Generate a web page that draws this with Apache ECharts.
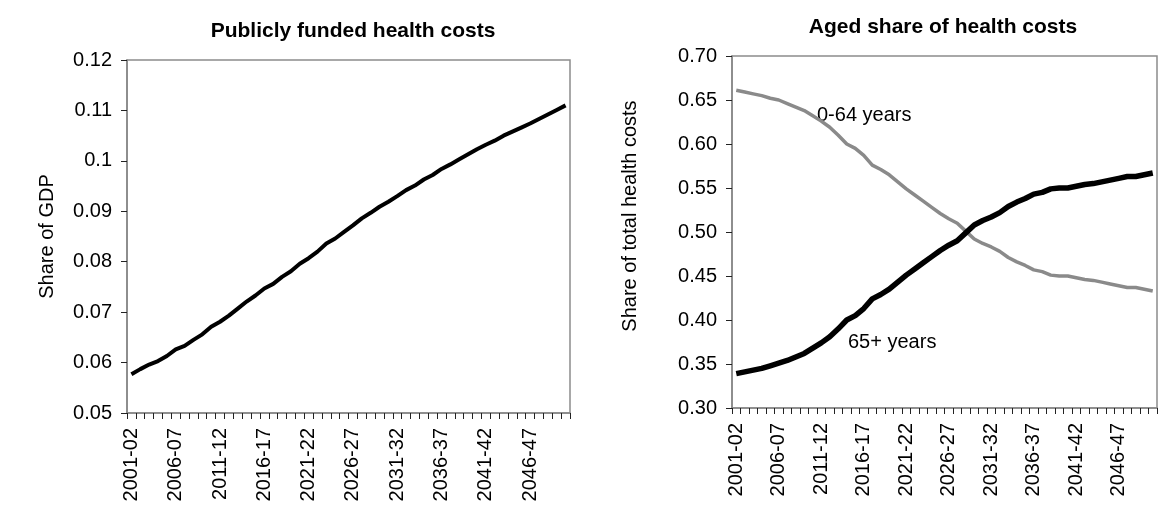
<!DOCTYPE html>
<html>
<head>
<meta charset="utf-8">
<script src="https://cdn.jsdelivr.net/npm/echarts@6/dist/echarts.min.js"></script>
<style>
  html, body { margin: 0; padding: 0; background: #fff; }
  #chart { width: 1163px; height: 507px; }
</style>
</head>
<body>
<div id="chart"></div>
<script>
const years = [
  '2001-02', '2002-03', '2003-04', '2004-05', '2005-06', '2006-07', '2007-08', '2008-09', '2009-10', '2010-11',
  '2011-12', '2012-13', '2013-14', '2014-15', '2015-16', '2016-17', '2017-18', '2018-19', '2019-20', '2020-21',
  '2021-22', '2022-23', '2023-24', '2024-25', '2025-26', '2026-27', '2027-28', '2028-29', '2029-30', '2030-31',
  '2031-32', '2032-33', '2033-34', '2034-35', '2035-36', '2036-37', '2037-38', '2038-39', '2039-40', '2040-41',
  '2041-42', '2042-43', '2043-44', '2044-45', '2045-46', '2046-47', '2047-48', '2048-49', '2049-50', '2050-51'
]

// publicly funded health costs, share of GDP
const healthGdp = [
  0.0577, 0.0587, 0.0596, 0.0603, 0.0613, 0.0626, 0.0633, 0.0645, 0.0656, 0.0671,
  0.0681, 0.0693, 0.0707, 0.0721, 0.0733, 0.0747, 0.0756, 0.0770, 0.0781, 0.0796,
  0.0807, 0.0820, 0.0836, 0.0846, 0.0859, 0.0872, 0.0886, 0.0897, 0.0909, 0.0919,
  0.0930, 0.0942, 0.0951, 0.0963, 0.0972, 0.0984, 0.0993, 0.1003, 0.1013, 0.1023,
  0.1032, 0.1040, 0.1050, 0.1058, 0.1066, 0.1074, 0.1083, 0.1092, 0.1101, 0.1110
]

// share of total health costs by age group
const share0to64 = [
  0.661, 0.659, 0.657, 0.655, 0.652, 0.650, 0.646, 0.642, 0.638, 0.632,
  0.626, 0.619, 0.610, 0.600, 0.595, 0.587, 0.576, 0.571, 0.565, 0.557,
  0.549, 0.542, 0.535, 0.528, 0.521, 0.515, 0.510, 0.501, 0.492, 0.487,
  0.483, 0.478, 0.471, 0.466, 0.462, 0.457, 0.455, 0.451, 0.450, 0.450,
  0.448, 0.446, 0.445, 0.443, 0.441, 0.439, 0.437, 0.437, 0.435, 0.433
]
const share65plus = [
  0.339, 0.341, 0.343, 0.345, 0.348, 0.351, 0.354, 0.358, 0.362, 0.368,
  0.374, 0.381, 0.390, 0.400, 0.405, 0.413, 0.424, 0.429, 0.435, 0.443,
  0.451, 0.458, 0.465, 0.472, 0.479, 0.485, 0.490, 0.499, 0.508, 0.513,
  0.517, 0.522, 0.529, 0.534, 0.538, 0.543, 0.545, 0.549, 0.550, 0.550,
  0.552, 0.554, 0.555, 0.557, 0.559, 0.561, 0.563, 0.563, 0.565, 0.567
]

const font = 'Arial, "Liberation Sans", sans-serif'
const axisGrey = '#868686'

function catAxis(gridIndex) {
  return {
    type: 'category',
    gridIndex: gridIndex,
    data: years,
    boundaryGap: true,
    axisLine: { lineStyle: { color: axisGrey, width: 1.5 } },
    axisTick: { show: true, interval: 0, length: 6, lineStyle: { color: '#222' } },
    axisLabel: {
      interval: 4,
      rotate: 90,
      margin: 15,
      color: '#000',
      fontSize: 20,
      fontFamily: font
    },
    splitLine: { show: false }
  }
}

function valAxis(gridIndex, min, max, step, name, gap, fmt, pad) {
  return {
    type: 'value',
    gridIndex: gridIndex,
    min: min,
    max: max,
    interval: step,
    name: name,
    nameLocation: 'middle',
    nameGap: gap,
    nameTextStyle: { color: '#000', fontSize: 20, fontFamily: font, padding: pad },
    axisLine: { show: true, lineStyle: { color: axisGrey, width: 1.5 } },
    axisTick: { show: true, length: 6, lineStyle: { color: '#222' } },
    axisLabel: { color: '#000', fontSize: 20, fontFamily: font, margin: 15, formatter: fmt },
    splitLine: { show: false }
  }
}

const chart = echarts.init(document.getElementById('chart'))
chart.setOption({
  backgroundColor: '#fff',
  animation: false,
  title: [
    {
      text: 'Publicly funded health costs',
      left: 348,
      top: 16,
      textAlign: 'center',
      textStyle: { fontSize: 21, fontWeight: 'bold', color: '#000', fontFamily: font }
    },
    {
      text: 'Aged share of health costs',
      left: 938,
      top: 12,
      textAlign: 'center',
      textStyle: { fontSize: 21, fontWeight: 'bold', color: '#000', fontFamily: font }
    }
  ],
  grid: [
    { left: 127, top: 60, width: 443, height: 353, show: true, borderColor: '#8c8c8c', borderWidth: 1.5, containLabel: false },
    { left: 732, top: 56, width: 425, height: 352, show: true, borderColor: '#8c8c8c', borderWidth: 1.5, containLabel: false }
  ],
  xAxis: [catAxis(0), catAxis(1)],
  yAxis: [
    valAxis(0, 0.05, 0.12, 0.01, 'Share of GDP', 70, null, 0),
    valAxis(1, 0.30, 0.70, 0.05, 'Share of total health costs', 92, v => v.toFixed(2), [0, 0, 0, 32])
  ],
  series: [
    {
      name: 'Publicly funded',
      type: 'line',
      xAxisIndex: 0,
      yAxisIndex: 0,
      data: healthGdp,
      symbol: 'none',
      lineStyle: { color: '#000', width: 4 }
    },
    {
      name: '0-64 years',
      type: 'line',
      xAxisIndex: 1,
      yAxisIndex: 1,
      data: share0to64,
      symbol: 'none',
      lineStyle: { color: '#8a8a8a', width: 3.5 }
    },
    {
      name: '65+ years',
      type: 'line',
      xAxisIndex: 1,
      yAxisIndex: 1,
      data: share65plus,
      symbol: 'none',
      lineStyle: { color: '#000', width: 5.5 }
    }
  ],
  graphic: [
    {
      type: 'text',
      x: 817,
      y: 115,
      style: { text: '0-64 years', font: '20px ' + font, fill: '#000', align: 'left', verticalAlign: 'middle', textAlign: 'left', textVerticalAlign: 'middle' }
    },
    {
      type: 'text',
      x: 848,
      y: 342,
      style: { text: '65+ years', font: '20px ' + font, fill: '#000', align: 'left', verticalAlign: 'middle', textAlign: 'left', textVerticalAlign: 'middle' }
    }
  ]
})
</script>
</body>
</html>
